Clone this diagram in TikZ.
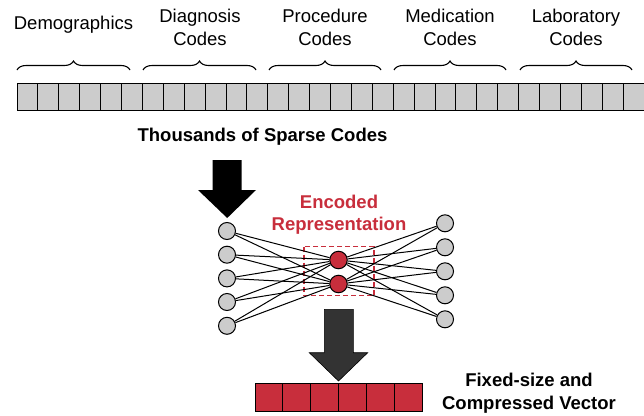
\documentclass[tikz,border=0pt]{standalone}
\usepackage{fontspec}
\setmainfont{Liberation Sans}
\usetikzlibrary{decorations.pathreplacing}
\definecolor{myred}{RGB}{200,46,60}
\definecolor{cellgray}{RGB}{204,204,204}
\definecolor{darkarrow}{RGB}{51,51,51}
\tikzset{
  lbl/.style={font=\fontsize{18.5}{22.7}\selectfont, align=center, inner sep=0pt, anchor=base},
  blbl/.style={lbl, font=\fontsize{18.5}{22.7}\selectfont\bfseries},
  cell/.style={draw=black, fill=cellgray, line width=1pt},
  rcell/.style={draw=black, fill=myred, line width=1pt},
  brc/.style={decorate, decoration={brace, amplitude=9pt}, line width=1.1pt},
  gnode/.style={circle, draw=black, fill=cellgray, line width=1pt, minimum size=17pt, inner sep=0pt},
  enode/.style={circle, draw=black, fill=myred, line width=1pt, minimum size=17.5pt, inner sep=0pt},
  conn/.style={line width=1pt, black},
}
\begin{document}
\begin{tikzpicture}[x=1pt,y=-1pt]
\useasboundingbox (0,0) rectangle (644,415);
% top vector
\foreach \i in {0,...,29} {
  \draw[cell] ({17+20.9*\i},83) rectangle ({17+20.9*(\i+1)},110);
}
% braces
\draw[brc] (17,70) -- (130,70);
\draw[brc] (143,70) -- (256,70);
\draw[brc] (269,70) -- (381,70);
\draw[brc] (394,70) -- (506,70);
\draw[brc] (520,70) -- (632,70);
% labels
\node[lbl] (demo) at (73.5,29) {Demographics};
\node[lbl] (diag) at (200,45) {Diagnosis\\Codes};
\node[lbl] (proc) at (325,45) {Procedure\\Codes};
\node[lbl] (medi) at (450,45) {Medication\\Codes};
\node[lbl] (labo) at (576,45) {Laboratory\\Codes};
\node[blbl] (thou) at (262.5,141) {Thousands of Sparse Codes};
% black arrow
\fill[black] (212.7,160) -- (241.7,160) -- (241.7,190) -- (256,190) -- (227.2,218) -- (198,190) -- (212.7,190) -- cycle;
% encoded label
\node[blbl, text=myred] (enc) at (339,230.7) {Encoded\\Representation};
% dashed box
\draw[myred, line width=1.3pt, dash pattern=on 5pt off 3pt] (304,246.7) rectangle (374,295.7);
% nodes
\foreach \n/\y in {1/231,2/254.7,3/278.4,4/302,5/325.8} {
  \node[gnode] (l\n) at (227,\y) {};
}
\foreach \n/\y in {1/223.3,2/247.3,3/271.3,4/295.3,5/319.3} {
  \node[gnode] (r\n) at (445,\y) {};
}
\node[enode] (e1) at (338.5,260) {};
\node[enode] (e2) at (338.5,284) {};
\foreach \n in {1,...,5} {
  \draw[conn] (l\n) -- (e1);
  \draw[conn] (l\n) -- (e2);
  \draw[conn] (r\n) -- (e1);
  \draw[conn] (r\n) -- (e2);
}
% dark arrow
\fill[darkarrow] (324.3,309.3) -- (353.3,309.3) -- (353.3,352.7) -- (367.7,352.7) -- (338.5,381) -- (309.3,352.7) -- (324.3,352.7) -- cycle;
\draw[black, line width=0.6pt] (324.3,309.3) -- (353.3,309.3) -- (353.3,352.7) -- (367.7,352.7) -- (338.5,381) -- (309.3,352.7) -- (324.3,352.7) -- cycle;
% red vector
\foreach \i in {0,...,5} {
  \draw[rcell] ({255+27.95*\i},383.3) rectangle ({255+27.95*(\i+1)},411.7);
}
\node[blbl] (fix) at (529,409) {Fixed-size and\\Compressed Vector};
\end{tikzpicture}
\end{document}
